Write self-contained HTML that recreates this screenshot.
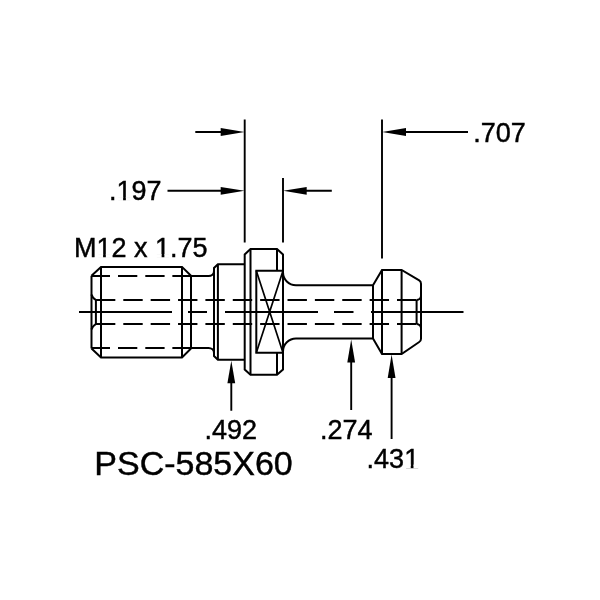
<!DOCTYPE html>
<html><head><meta charset="utf-8"><style>
html,body{margin:0;padding:0;background:#fff;width:600px;height:600px;overflow:hidden}
svg{position:absolute;left:0;top:0}
text{font-family:"Liberation Sans",sans-serif;fill:#000;stroke:#000;stroke-width:0.45px}
</style></head><body>
<svg width="600" height="600" viewBox="0 0 600 600">
<rect width="600" height="600" fill="#fff"/>
<g fill="none" stroke="#000" stroke-linecap="butt" stroke-linejoin="miter">
<path d="M91.5,275.8 L101,266.9 L182,266.9 L191,275.8" stroke-width="2.0"/>
<path d="M91.5,348.5 L101,357.5 L182,357.5 L191,348.5" stroke-width="2.0"/>
<path d="M91.5,275.8 L91.5,348.5" stroke-width="2.0"/>
<path d="M95.9,300 L95.9,324" stroke-width="2.0"/>
<path d="M91.5,294.5 Q92,297.3 95.9,300 M91.5,329.5 Q92,326.7 95.9,324" stroke-width="2.0"/>
<path d="M101,266.9 L101,357.5 M182,266.9 L182,357.5 M191,275.8 L191,348.5" stroke-width="2.0"/>
<path d="M91.50,276 L110.00,276 M118.00,276 L137.30,276 M145.30,276 L164.60,276 M172.60,276 L191.00,276 " stroke-width="2.0"/>
<path d="M91.50,348 L110.00,348 M118.00,348 L137.30,348 M145.30,348 L164.60,348 M172.60,348 L191.00,348 " stroke-width="2.0"/>
<path d="M172.6,276 L208.5,276 C211.5,276 214,274 214,271 L214,268 L217.9,264.2 L244.7,264.2" stroke-width="2.0"/>
<path d="M172.6,348 L208.5,348 C211.5,348 214,350 214,353 L214,356 L217.9,359.8 L244.7,359.8" stroke-width="2.0"/>
<path d="M214,268 L214,356 M217.9,264.2 L217.9,359.8" stroke-width="2.0"/>
<path d="M95.93,300 L115.33,300 M123.30,300 L142.70,300 M150.67,300 L170.07,300 M178.04,300 L197.44,300 M205.41,300 L224.81,300 M232.78,300 L252.18,300 M260.15,300 L279.55,300 M287.52,300 L306.92,300 M314.89,300 L334.29,300 M342.26,300 L361.66,300 M369.63,300 L389.03,300 M397.00,300 L416.40,300 " stroke-width="2.0"/>
<path d="M95.93,324 L115.33,324 M123.30,324 L142.70,324 M150.67,324 L170.07,324 M178.04,324 L197.44,324 M205.41,324 L224.81,324 M232.78,324 L252.18,324 M260.15,324 L279.55,324 M287.52,324 L306.92,324 M314.89,324 L334.29,324 M342.26,324 L361.66,324 M369.63,324 L389.03,324 M397.00,324 L416.40,324 " stroke-width="2.0"/>
<path d="M79,312 L172,312 M188,312 L207,312 M225,312 L318,312 M334,312 L353.5,312 M371,312 L463.5,312" stroke-width="2.0"/>
<path d="M244.7,369.5 L244.7,254.5 L250.5,249 L277,249 L283,254.5 L283,369.5 L277,374.8 L250.5,374.8 Z" stroke-width="2.0"/>
<path d="M250.5,249 L250.5,374.8 M277,249 L277,270.8 M277,352.7 L277,374.8" stroke-width="2.0"/>
<path d="M283,270.8 L256.3,270.8 L256.3,352.7 L283,352.7" stroke-width="2.0"/>
<path d="M256.3,270.8 L283,352.7 M283,270.8 L256.3,352.7" stroke-width="1.7"/>
<path d="M283,272.3 A13,13 0 0 0 296,285.3 L373,285.3 L382,270 L401.6,270 L419.2,280.3 Q421,281.5 421,283.8 L421,338.8 Q421,341 419.2,342 L401.6,354 L382,354 L373,338.5 L296,338.5 A13,13 0 0 0 283,351.5" stroke-width="2.0"/>
<path d="M373,285.3 L373,338.5 M382,270 L382,354 M401.6,270 L401.6,354 M416.6,300 L416.6,324" stroke-width="2.0"/>
<path d="M416.6,300 Q420.6,299.6 421,296 M416.6,324 Q420.6,324.4 421,328" stroke-width="2.0"/>
<path d="M244.7,119.6 L244.7,242.5 M283,178 L283,242.5 M382,119.6 L382,258.5" stroke-width="1.9"/>
<path d="M195.3,132 L222,132 M167.5,190.8 L222,190.8 M305,190.8 L331.8,190.8 M405,132 L468,132" stroke-width="1.9"/>
<path d="M231.3,382 L231.3,410.7 M351.2,361 L351.2,410 M391.6,377 L391.6,439" stroke-width="1.9"/>
<path d="M244.5,132 L220.7,128.1 L220.7,135.9 Z" fill="#000" stroke="none"/>
<path d="M244.5,190.8 L220.7,186.9 L220.7,194.7 Z" fill="#000" stroke="none"/>
<path d="M283.2,190.8 L306.7,186.9 L306.7,194.7 Z" fill="#000" stroke="none"/>
<path d="M382.2,132 L406,128.1 L406,135.9 Z" fill="#000" stroke="none"/>
<path d="M231.3,360.8 L227.4,383.3 L235.2,383.3 Z" fill="#000" stroke="none"/>
<path d="M351.2,339.4 L347.3,362.5 L355.1,362.5 Z" fill="#000" stroke="none"/>
<path d="M391.6,354.6 L387.7,378 L395.5,378 Z" fill="#000" stroke="none"/>
</g>
<g style="filter:grayscale(1)"><text x="320" y="439" font-size="27">.274</text><text x="366.6" y="467.5" font-size="27">.431</text><text x="204.4" y="439" font-size="27">.492</text><text x="109" y="200" font-size="27">.197</text><text x="473.3" y="142" font-size="27">.707</text><text x="74" y="257" font-size="27">M12 x 1.75</text><text x="94.3" y="475" font-size="34">PSC-585X60</text></g><rect x="404.93" y="464.60" width="5.80" height="3.8" fill="#fff"/><rect x="413.48" y="464.60" width="5.45" height="3.8" fill="#fff"/><rect x="117.30" y="197.10" width="5.80" height="3.8" fill="#fff"/><rect x="125.85" y="197.10" width="5.45" height="3.8" fill="#fff"/><rect x="97.28" y="254.10" width="5.80" height="3.8" fill="#fff"/><rect x="105.83" y="254.10" width="5.45" height="3.8" fill="#fff"/><rect x="155.82" y="254.10" width="5.80" height="3.8" fill="#fff"/><rect x="164.37" y="254.10" width="5.45" height="3.8" fill="#fff"/>
</svg></body></html>
